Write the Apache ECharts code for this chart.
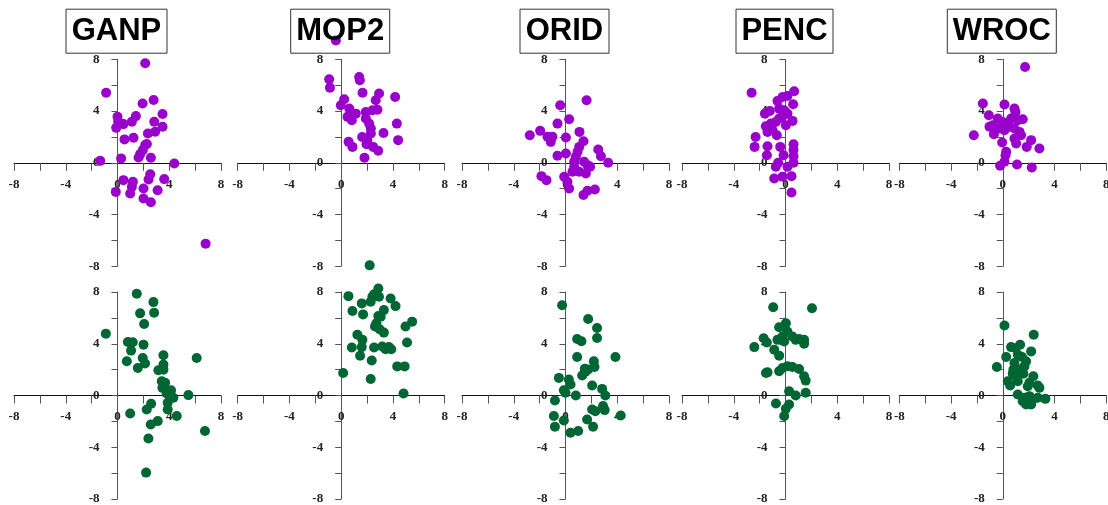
<!DOCTYPE html>
<html>
<head>
<meta charset="utf-8">
<script src="https://cdn.jsdelivr.net/npm/echarts@6/dist/echarts.min.js"></script>
<style>
html,body{margin:0;padding:0;background:#fff;}
#chart{width:1108px;height:505px;}
</style>
</head>
<body>
<div id="chart"></div>
<script>
const stations = ['GANP', 'MOP2', 'ORID', 'PENC', 'WROC'];
const tickLabels = [-8, -4, 0, 4, 8];

// Upper row (purple) points [x, y]
const ganpUpper = [[2.14,7.69],[-0.88,5.42],[1.94,4.59],[2.79,4.85],[3.48,3.77],[0,3.56],[1.42,3.61],[1.11,3.17],[0.46,2.99],
  [0.05,3.2],[-0.1,2.7],[2.84,3.17],[3.48,2.79],[2.91,2.4],[2.35,2.27],[0.54,1.81],[1.24,1.94],[2.27,1.45],[2.14,1.37],
  [1.96,0.98],[1.75,0.67],[1.63,0.41],[0.28,0.34],[2.58,0.39],[-1.34,0.15],[4.39,-0.05],[2.53,-0.88],[2.4,-1.29],
  [3.61,-1.26],[0.46,-1.34],[1.19,-1.47],[1.11,-1.86],[-0.13,-2.25],[0.98,-2.37],[2.01,-1.99],[2.01,-2.76],[3.1,-2.12],
  [2.58,-3.05],[6.81,-6.25]];
const mop2Upper = [[-0.41,9.46],[-0.93,6.45],[-0.87,5.81],[1.39,6.63],[1.44,6.38],[1.65,5.42],[2.93,5.35],[2.67,4.83],
  [4.17,5.09],[0.23,4.91],[-0.03,4.45],[0.62,4.19],[0.75,3.68],[0.49,3.55],[0.82,3.29],[1.13,3.8],[1.9,3.93],[2.42,4.06],
  [2.8,4.11],[1.9,3.42],[2.16,3.03],[2.29,2.65],[2.29,2.26],[4.3,3.03],[3.27,2.31],[1.62,2.0],[2.01,1.75],[1.96,1.44],
  [0.57,1.62],[0.87,1.23],[2.47,1.23],[2.86,0.93],[4.4,1.75],[1.8,0.39]];
const oridUpper = [[1.63,4.83],[-0.41,4.45],[0.28,3.37],[-0.62,3.03],[-2.76,2.13],[-1.96,2.47],[-1.39,2.01],[-1.01,2.01],
  [-1.14,1.62],[0.03,1.95],[1.08,2.39],[1.39,1.67],[2.53,1.03],[2.74,0.51],[3.3,0],[-0.62,0.54],[0.03,0.72],[1.06,1.23],
  [0.93,0.85],[0.8,0.46],[0.67,0.08],[0.67,-0.31],[0.54,-0.69],[1.44,0.08],[1.7,-0.18],[1.9,-0.31],[1.57,-0.82],
  [-0.1,-1.08],[0.15,-1.47],[0.28,-1.98],[-1.86,-1.03],[-1.47,-1.34],[1.39,-2.49],[1.7,-2.16],[2.27,-2.06],[1.06,-0.69]];
const pencUpper = [[-2.62,5.42],[0.67,5.53],[0.15,5.17],[-0.62,4.78],[-0.23,5.09],[0.59,4.52],[-1.59,3.8],[-1.21,4.01],
  [-0.49,4.19],[-0.1,4.06],[0.15,3.8],[-1.52,2.83],[-1.13,3.03],[-0.75,3.16],[-0.49,3.42],[-0.23,3.6],[0.54,3.24],
  [-1.39,2.39],[-1.0,2.52],[-0.67,2.13],[0.03,2.9],[-2.31,2.0],[-2.39,1.23],[-1.39,1.28],[-1.44,0.59],[-0.41,1.23],
  [0.62,1.44],[0.62,0.98],[0.62,0.51],[0.62,0],[-0.15,0.59],[-0.57,0],[-0.75,-0.31],[0.15,-0.31],[-0.87,-1.21],
  [-0.23,-1.08],[0.46,-1.03],[0.46,-2.29]];
const wrocUpper = [[1.72,7.4],[-1.54,4.58],[0.13,4.5],[0.9,4.19],[0.98,3.93],[-1.08,3.68],[-0.39,3.42],[-0.77,2.9],
  [-1.03,2.78],[0,3.16],[0.39,3.03],[0.64,3.42],[1.16,3.29],[1.54,3.37],[-0.26,2.65],[0.13,2.52],[0.51,2.78],[-0.69,2.21],
  [0.9,2.65],[1.29,2.39],[1.41,2.13],[-2.24,2.13],[-0.05,1.57],[0.9,1.88],[1.03,1.49],[2.19,1.75],[1.85,1.23],[2.83,1.1],
  [0.26,0.85],[0.21,0.59],[0.13,0.08],[-0.21,-0.23],[1.1,-0.13],[2.24,-0.36]];

// Lower row (green) points [x, y]
const ganpLower = [[1.49,7.87],[2.78,7.22],[1.75,6.35],[2.83,6.4],[2.06,5.53],[-0.9,4.78],[0.8,4.14],[1.18,4.11],[2.01,3.93],
  [1.05,3.47],[3.55,3.11],[1.95,2.9],[6.12,2.9],[0.72,2.65],[2.13,2.47],[3.55,2.39],[1.57,2.13],[3.16,1.95],[3.55,2.0],
  [3.42,1.1],[3.68,0.98],[3.47,0.59],[4.14,0.41],[3.8,0.15],[4.06,-0.05],[4.32,-0.18],[5.48,0.03],[3.88,-0.57],[2.6,-0.64],
  [2.26,-1.08],[3.88,-1.08],[0.98,-1.39],[4.58,-1.59],[3.11,-1.98],[2.57,-2.24],[6.76,-2.75],[2.39,-3.32],[2.21,-5.96]];
const mop2Lower = [[2.2,10.06],[2.87,8.27],[2.54,7.83],[2.41,7.63],[2.92,7.63],[0.56,7.68],[2.28,7.24],[1.59,7.12],[3.82,7.5],
  [4.2,6.91],[0.87,6.53],[1.69,6.27],[3.3,6.6],[3.05,6.09],[2.87,6.14],[2.72,5.58],[2.61,5.33],[2.97,5.12],[3.3,4.86],
  [5.48,5.71],[4.97,5.33],[1.25,4.69],[1.64,4.3],[5.09,4.1],[0.82,3.71],[1.59,3.74],[2.54,3.71],[3.17,3.79],[3.69,3.74],
  [3.87,3.58],[3.43,3.58],[1.46,3.07],[2.36,2.71],[4.33,2.25],[4.9,2.25],[0.15,1.74],[2.28,1.28],[4.82,0.15]];
const oridLower = [[-0.26,6.97],[1.75,5.91],[2.44,5.22],[2.44,4.45],[0.9,4.37],[1.23,4.19],[0.9,2.98],[3.86,2.98],[2.19,2.65],
  [2.24,2.21],[1.49,2.06],[1.75,2.01],[1.54,1.83],[1.29,1.54],[-0.51,1.36],[0.26,1.23],[0.39,0.85],[-0.13,0.41],[0,0.21],
  [2.06,0.77],[2.83,0.51],[3.08,0],[0.8,0],[-0.82,-0.39],[-0.9,-1.59],[-0.82,-2.42],[-0.13,-1.93],[0.39,-2.88],
  [0.98,-2.75],[1.67,-1.85],[2.13,-2.42],[2.06,-1.08],[2.31,-1.21],[2.9,-0.82],[3.03,-1.13],[4.27,-1.54]];
const pencLower = [[-0.95,6.82],[2.05,6.74],[0.03,5.58],[-0.49,5.27],[0.15,4.94],[0.54,4.56],[0.79,4.3],[1.05,4.36],[1.44,4.3],
  [1.44,4.0],[-0.23,4.56],[-0.62,4.3],[-0.1,4.17],[-1.69,4.43],[-1.44,4.1],[-2.41,3.74],[-0.87,3.54],[-0.49,3.08],
  [-1.39,1.79],[-1.51,1.74],[-0.49,1.87],[-0.23,2.13],[0.15,2.26],[0.54,2.2],[1.05,2.05],[1.44,1.49],[1.56,1.15],
  [0.28,0.33],[0.79,0],[1.56,0.21],[-0.74,-0.62],[0.28,-0.69],[0.03,-1.03],[-0.1,-1.59]];
const wrocLower = [[0.13,5.41],[2.39,4.69],[0.64,3.74],[0.98,3.66],[1.34,3.92],[2.19,3.41],[0.26,2.98],[1.16,3.15],[1.49,2.98],
  [1.8,2.64],[1.67,2.25],[-0.46,2.2],[0.9,2.51],[0.82,2.0],[0.77,1.69],[1.29,2.0],[1.59,1.69],[0.39,1.1],[0.57,0.77],
  [1.03,1.49],[1.16,1.1],[2.36,1.49],[2.06,0.98],[1.93,0.72],[2.7,0.77],[2.83,0.59],[1.16,0.08],[1.67,-0.18],[1.54,-0.44],
  [2.06,-0.05],[2.31,-0.31],[2.19,-0.69],[2.7,-0.18],[3.29,-0.26],[1.8,-0.69]];

const upperSets = [ganpUpper, mop2Upper, oridUpper, pencUpper, wrocUpper];
const lowerSets = [ganpLower, mop2Lower, oridLower, pencLower, wrocLower];

const colLeft = [14, 237.7, 462, 682, 899.3];
const panelW = 207, panelH = 207;
const rowTop = [59.3, 292];
const purple = '#9900cc', green = '#006633';

const grids = [], xAxes = [], yAxes = [], series = [], titles = [];
const labelStyle = {fontFamily: 'Liberation Serif', fontWeight: 'bold', fontSize: 13, color: '#222'};
function fmt(v) { return tickLabels.indexOf(v) >= 0 ? String(v) : ''; }

[upperSets, lowerSets].forEach((sets, r) => {
  sets.forEach((data, c) => {
    const idx = grids.length;
    grids.push({left: colLeft[c], top: rowTop[r], width: panelW, height: panelH,
      containLabel: false, outerBoundsMode: 'none'});
    // axes cross at the panel centre (value 0 of the symmetric -8..8 range)
    xAxes.push({
      gridIndex: idx, type: 'value', min: -8, max: 8, interval: 2,
      position: 'bottom', offset: -panelH / 2,
      axisLine: {onZero: false, lineStyle: {color: '#111', width: 1}},
      axisTick: {show: true, length: 8, lineStyle: {color: '#555'}},
      axisLabel: Object.assign({margin: 15, formatter: fmt, showMinLabel: true, showMaxLabel: true,
        hideOverlap: false}, labelStyle),
      splitLine: {show: false}
    });
    yAxes.push({
      gridIndex: idx, type: 'value', min: -8, max: 8, interval: 2,
      position: 'left', offset: -panelW / 2,
      axisLine: {onZero: false, lineStyle: {color: '#555', width: 1}},
      axisTick: {show: true, length: 6, lineStyle: {color: '#555'}},
      axisLabel: Object.assign({margin: 18, formatter: fmt, showMinLabel: true, showMaxLabel: true,
        hideOverlap: false}, labelStyle),
      splitLine: {show: false}
    });
    series.push({
      type: 'scatter', xAxisIndex: idx, yAxisIndex: idx, data: data,
      symbol: 'circle', symbolSize: 10, clip: false,
      itemStyle: {color: r === 0 ? purple : green, opacity: 1},
      emphasis: {disabled: true}, silent: true
    });
  });
});

stations.forEach((name, c) => {
  titles.push({
    text: name, left: colLeft[c] + panelW / 2 - 7, top: 8.7, textAlign: 'center',
    padding: [7, 6, 7, 6], borderWidth: 1, borderColor: '#333', backgroundColor: 'transparent',
    textStyle: {fontFamily: 'Liberation Sans', fontWeight: 'bold', fontSize: 31, color: '#000'}
  });
});

const chart = echarts.init(document.getElementById('chart'), null, {renderer: 'canvas'});
chart.setOption({
  animation: false,
  backgroundColor: '#fff',
  title: titles,
  grid: grids,
  xAxis: xAxes,
  yAxis: yAxes,
  series: series
});
</script>
</body>
</html>
